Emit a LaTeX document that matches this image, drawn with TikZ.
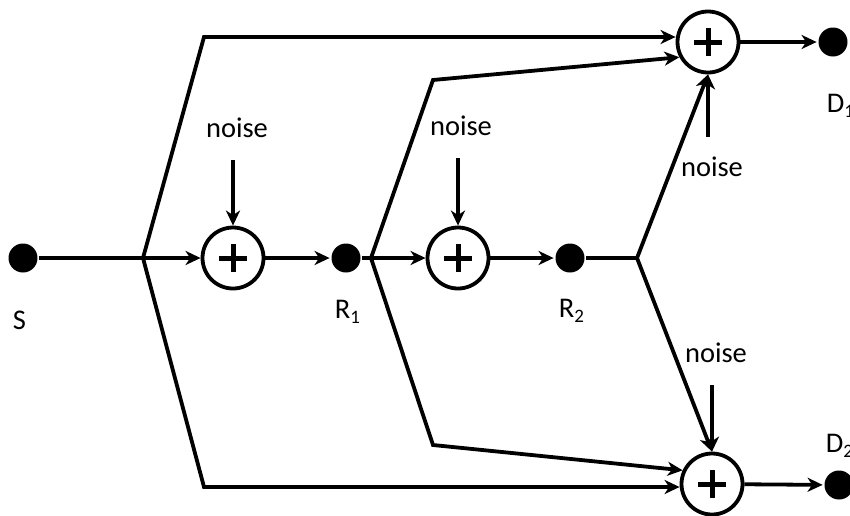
\documentclass[tikz,border=0pt]{standalone}
\usepackage{fontspec}
\setmainfont{Carlito}
\usetikzlibrary{arrows.meta}
\newcommand\lowsub[1]{\raisebox{-5pt}{\fontsize{19}{19}\selectfont #1}}
\begin{document}
\begin{tikzpicture}[x=1pt,y=-1pt,
  line width=3.8pt,
  >={Stealth[length=15pt,width=14pt,inset=4.5pt]},
  dot/.style={circle,fill=black,draw=none,minimum size=29pt,inner sep=0pt},
  adder/.style={circle,draw,line width=3.8pt,minimum size=61pt,inner sep=0pt,
    path picture={\draw[line width=5pt]
      ([xshift=-14pt]path picture bounding box.center) -- ([xshift=14pt]path picture bounding box.center)
      ([yshift=-14pt]path picture bounding box.center) -- ([yshift=14pt]path picture bounding box.center);}},
  lab/.style={font=\fontsize{28.5}{32}\selectfont, inner sep=0pt}
]
\useasboundingbox (0,0) rectangle (850,515);

% dots
\node[dot] (S)  at (23,258) {};
\node[dot] (R1) at (346,258) {};
\node[dot] (R2) at (570,258) {};
\node[dot] (D1) at (833,42) {};
\node[dot] (D2) at (839,485) {};

% adders
\node[adder] (add1) at (233,258) {};
\node[adder] (add2) at (458,258) {};
\node[adder] (add3) at (708,42) {};
\node[adder] (add4) at (712,484) {};

% labels
\node[lab,anchor=base west] (lS)  at (11,329) {S};
\node[lab,anchor=base west] (lR1) at (333,318) {R\lowsub{1}};
\node[lab,anchor=base west] (lR2) at (557,317) {R\lowsub{2}};
\node[lab,anchor=base west] (lD1) at (825,112) {D\lowsub{1}};
\node[lab,anchor=base west] (lD2) at (824,452) {D\lowsub{2}};

\node[lab,anchor=base] (n1) at (237,137) {noise};
\node[lab,anchor=base] (n2) at (461,135) {noise};
\node[lab,anchor=base] (n3) at (712,176) {noise};
\node[lab,anchor=base] (n4) at (716,362) {noise};

% branch points
\coordinate (b1) at (143,258);
\coordinate (t1) at (204,37);
\coordinate (u1) at (204,487);
\coordinate (b2) at (371,258);
\coordinate (t2) at (433,80);
\coordinate (u2) at (433,445);
\coordinate (b3) at (637,258);

% noise arrow starts
\coordinate (n1a) at (233,160);
\coordinate (n2a) at (458,158);
\coordinate (n3a) at (708,137);
\coordinate (n4a) at (712,385);

% main chain
\draw[->] (S) -- (add1);
\draw[->] (add1) -- (R1);
\draw[->] (R1) -- (add2);
\draw[->] (add2) -- (R2);
\draw (R2) -- (b3);

% source branches
\draw[->] (b1) -- (t1) -- (t1 -| add3.west);
\draw[->] (b1) -- (u1) -- (u1 -| add4.west);

% relay 1 branches
\draw[->] (b2) -- (t2) -- (add3.208);
\draw[->] (b2) -- (u2) -- (add4.155);

% relay 2 branches
\draw[->] (b3) -- (add3.south);
\draw[->] (b3) -- (add4.north);

% outputs
\draw[->] (add3) -- (D1);
\draw[->] (add4) -- (D2);

% noise
\draw[->] (n1a) -- (add1.north);
\draw[->] (n2a) -- (add2.north);
\draw[->] (n3a) -- (add3.south);
\draw[->] (n4a) -- (add4.north);
\end{tikzpicture}
\end{document}
